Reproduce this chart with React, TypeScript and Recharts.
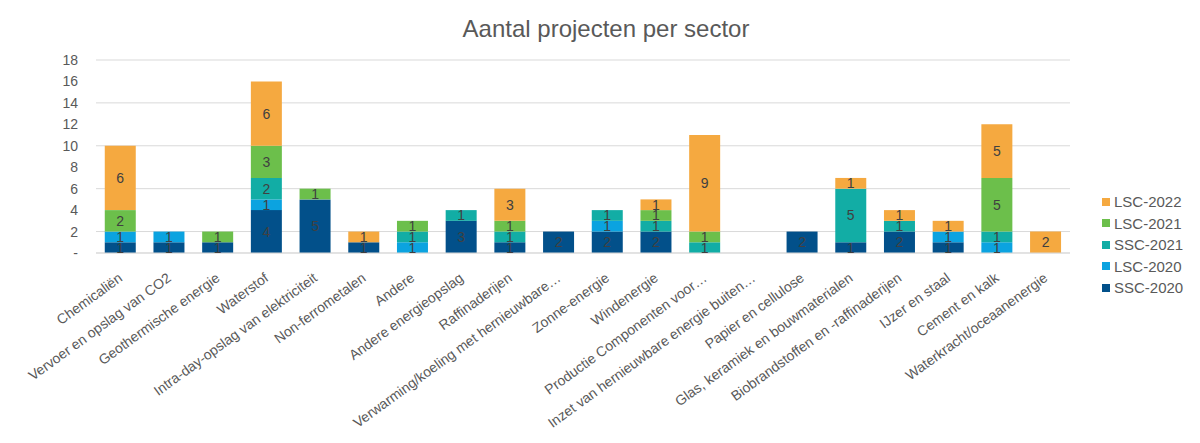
import { BarChart, Bar, XAxis, YAxis, CartesianGrid, LabelList } from 'recharts';

const categories = [
  'Chemicaliën',
  'Vervoer en opslag van CO2',
  'Geothermische energie',
  'Waterstof',
  'Intra-day-opslag van elektriciteit',
  'Non-ferrometalen',
  'Andere',
  'Andere energieopslag',
  'Raffinaderijen',
  'Verwarming/koeling met hernieuwbare…',
  'Zonne-energie',
  'Windenergie',
  'Productie Componenten voor…',
  'Inzet van hernieuwbare energie buiten…',
  'Papier en cellulose',
  'Glas, keramiek en bouwmaterialen',
  'Biobrandstoffen en -raffinaderijen',
  'IJzer en staal',
  'Cement en kalk',
  'Waterkracht/oceaanenergie',
];

const ssc2020 = [1, 1, 1, 4, 5, 1, 0, 3, 1, 2, 2, 2, 0, 0, 2, 1, 2, 1, 0, 0];
const lsc2020 = [1, 1, 0, 1, 0, 0, 1, 0, 0, 0, 1, 0, 0, 0, 0, 0, 0, 1, 1, 0];
const ssc2021 = [0, 0, 0, 2, 0, 0, 1, 1, 1, 0, 1, 1, 1, 0, 0, 5, 1, 0, 1, 0];
const lsc2021 = [2, 0, 1, 3, 1, 0, 1, 0, 1, 0, 0, 1, 1, 0, 0, 0, 0, 0, 5, 0];
const lsc2022 = [6, 0, 0, 6, 0, 1, 0, 0, 3, 0, 0, 1, 9, 0, 0, 1, 1, 1, 5, 2];

const yTicks = [0, 2, 4, 6, 8, 10, 12, 14, 16, 18];

// stacking order, bottom first
const SERIES = [
  { key: 'SSC-2020', values: ssc2020, color: '#02508a' },
  { key: 'LSC-2020', values: lsc2020, color: '#0ba3e0' },
  { key: 'SSC-2021', values: ssc2021, color: '#12ada5' },
  { key: 'LSC-2021', values: lsc2021, color: '#6cbf4b' },
  { key: 'LSC-2022', values: lsc2022, color: '#f5a940' },
];

const FONT = '"Liberation Sans", Arial, sans-serif';
const TEXT = '#595959';

const data = categories.map((name, i) => {
  const row: Record<string, string | number> = { name };
  SERIES.forEach((s) => { row[s.key] = s.values[i]; });
  return row;
});

// Excel-style accounting format: zero shows as a dash
const dash = (v: unknown) => (Number(v) === 0 ? '-' : String(v));

// eslint-disable-next-line @typescript-eslint/no-explicit-any
function XTick({ x, y, payload }: any) {
  return (
    <g transform={`translate(${x + 3},${y + 19})`}>
      <text transform="rotate(-36)" textAnchor="end" fill={TEXT} fontSize={14} fontFamily={FONT}>
        {payload.value}
      </text>
    </g>
  );
}

export default function App() {
  return (
    <div
      style={{
        position: 'relative', width: 1200, height: 445,
        marginLeft: -1, marginTop: -1,
        borderLeft: '1px solid #d9d9d9', borderTop: '1px solid #d9d9d9',
        fontFamily: FONT,
      }}
    >
      <div
        style={{
          position: 'absolute', left: 0, top: 7, width: 1196,
          textAlign: 'center', fontSize: 24, color: TEXT,
        }}
      >
        Aantal projecten per sector
      </div>

      <BarChart
        width={1180}
        height={430}
        data={data}
        margin={{ top: 52, right: 118, left: 28, bottom: 5 }}
        barCategoryGap="18%"
      >
        <CartesianGrid stroke="#d9d9d9" vertical={false} />
        <XAxis
          dataKey="name"
          interval={0}
          height={180}
          tick={<XTick />}
          tickLine={false}
          axisLine={{ stroke: '#d9d9d9' }}
        />
        <YAxis
          domain={[0, 18]}
          ticks={yTicks}
          width={60}
          tickFormatter={dash}
          tick={{ fill: TEXT, fontSize: 14, fontFamily: FONT }}
          tickLine={false}
          axisLine={false}
          tickMargin={12}
        />
        {SERIES.map((s) => (
          <Bar key={s.key} dataKey={s.key} stackId="a" fill={s.color} isAnimationActive={false}>
            <LabelList
              dataKey={s.key}
              position="center"
              formatter={dash}
              fill="#404040"
              fontSize={14}
              fontFamily={FONT}
            />
          </Bar>
        ))}
      </BarChart>

      <div style={{ position: 'absolute', left: 1094, top: 183 }}>
        {[...SERIES].reverse().map((s) => (
          <div
            key={s.key}
            style={{ display: 'flex', alignItems: 'center', height: 21.5, fontSize: 15, color: TEXT }}
          >
            <span style={{ width: 8, height: 8, background: s.color, marginRight: 4 }} />
            {s.key}
          </div>
        ))}
      </div>
    </div>
  );
}
